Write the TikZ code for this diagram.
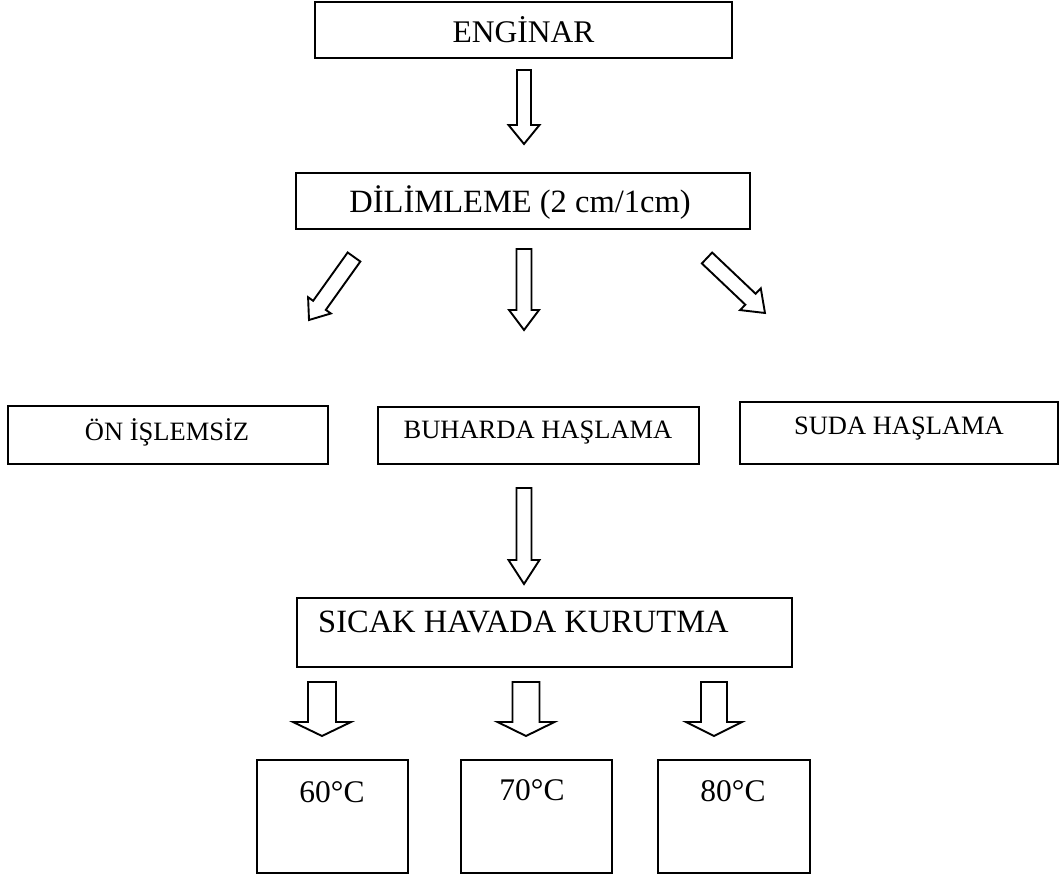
\documentclass[tikz,border=0pt]{standalone}
\usepackage{fontspec}
\setmainfont{Liberation Serif}
\usetikzlibrary{calc}
\tikzset{
  box/.style={draw, line width=2pt, rectangle, inner sep=0pt},
  bigtxt/.style={font=\fontsize{32.5}{38}\selectfont, inner sep=0pt},
  midtxt/.style={font=\fontsize{31.5}{37}\selectfont, inner sep=0pt},
  smalltxt/.style={font=\fontsize{26.5}{31}\selectfont, inner sep=0pt},
  blk/.style={draw, line width=1.9pt, fill=white, line join=miter}
}
% block arrow from coordinate #1 (tail) to #2 (tip); #3 half shaft, #4 half head, #5 head length
\newcommand\barrow[5]{%
  \path let \p1=(#1), \p2=(#2) in \pgfextra{%
    \pgfmathsetmacro\bang{atan2(\y2-\y1,\x2-\x1)}%
    \pgfmathsetmacro\blen{veclen(\x2-\x1,\y2-\y1)}%
    \global\let\bang\bang \global\let\blen\blen};
  \draw[blk,shift={(#1)},rotate=\bang] (0,-#3) -- (\blen-#5,-#3) -- (\blen-#5,-#4) -- (\blen,0)
     -- (\blen-#5,#4) -- (\blen-#5,#3) -- (0,#3) -- cycle;
}
\begin{document}
\begin{tikzpicture}[x=1pt,y=-1pt]
\useasboundingbox (0,0) rectangle (1060,877);

% boxes
\node[box, midtxt, minimum width=417, minimum height=56] (eng) at (523.5,30) {ENGİNAR};
\node[box, minimum width=454, minimum height=56] (dil) at (523,201) {};
\node[bigtxt] (diltxt) at (520,203) {DİLİMLEME (2 cm/1cm)};

\node[box, minimum width=320, minimum height=58] (on) at (168,435) {};
\node[smalltxt] (ontxt) at (167,432) {ÖN İŞLEMSİZ};
\node[box, minimum width=321, minimum height=57] (buh) at (538.5,435.5) {};
\node[smalltxt] (buhtxt) at (538,433) {BUHARDA HAŞLAMA};
\node[box, minimum width=318, minimum height=62] (suda) at (899,433) {};
\node[smalltxt] (sudatxt) at (899,429) {SUDA HAŞLAMA};

\node[box, minimum width=495, minimum height=69] (sic) at (544.5,632.5) {};
\node[bigtxt, anchor=west] (sictxt) at (318,622) {SICAK HAVADA KURUTMA};

\node[box, minimum width=151, minimum height=113] (t60) at (332.5,816.5) {};
\node[midtxt] (t60txt) at (332,792) {60°C};
\node[box, minimum width=151, minimum height=113] (t70) at (536.5,816.5) {};
\node[midtxt] (t70txt) at (532,790) {70°C};
\node[box, minimum width=152, minimum height=113] (t80) at (734,816.5) {};
\node[midtxt] (t80txt) at (733,791) {80°C};

% arrow end points
\coordinate (a1s) at (524,70);  \coordinate (a1e) at (524,144);
\coordinate (a2s) at (524,249); \coordinate (a2e) at (524,330);
\coordinate (a3s) at (354,257); \coordinate (a3e) at (309,320);
\coordinate (a4s) at (707,258); \coordinate (a4e) at (765,313);
\coordinate (a5s) at (524,488); \coordinate (a5e) at (524,584);
\coordinate (a6s) at (322,682); \coordinate (a6e) at (322,736);
\coordinate (a7s) at (526,682); \coordinate (a7e) at (526,736);
\coordinate (a8s) at (714,682); \coordinate (a8e) at (714,736);

\barrow{a1s}{a1e}{7}{15.5}{19}
\barrow{a2s}{a2e}{7.5}{15}{20}
\barrow{a3s}{a3e}{7.8}{14}{18}
\barrow{a4s}{a4e}{7.5}{15}{20}
\barrow{a5s}{a5e}{7.5}{15.5}{24}
\barrow{a6s}{a6e}{14}{29}{14}
\barrow{a7s}{a7e}{13.5}{28.5}{14}
\barrow{a8s}{a8e}{13}{28}{14}
\end{tikzpicture}
\end{document}
